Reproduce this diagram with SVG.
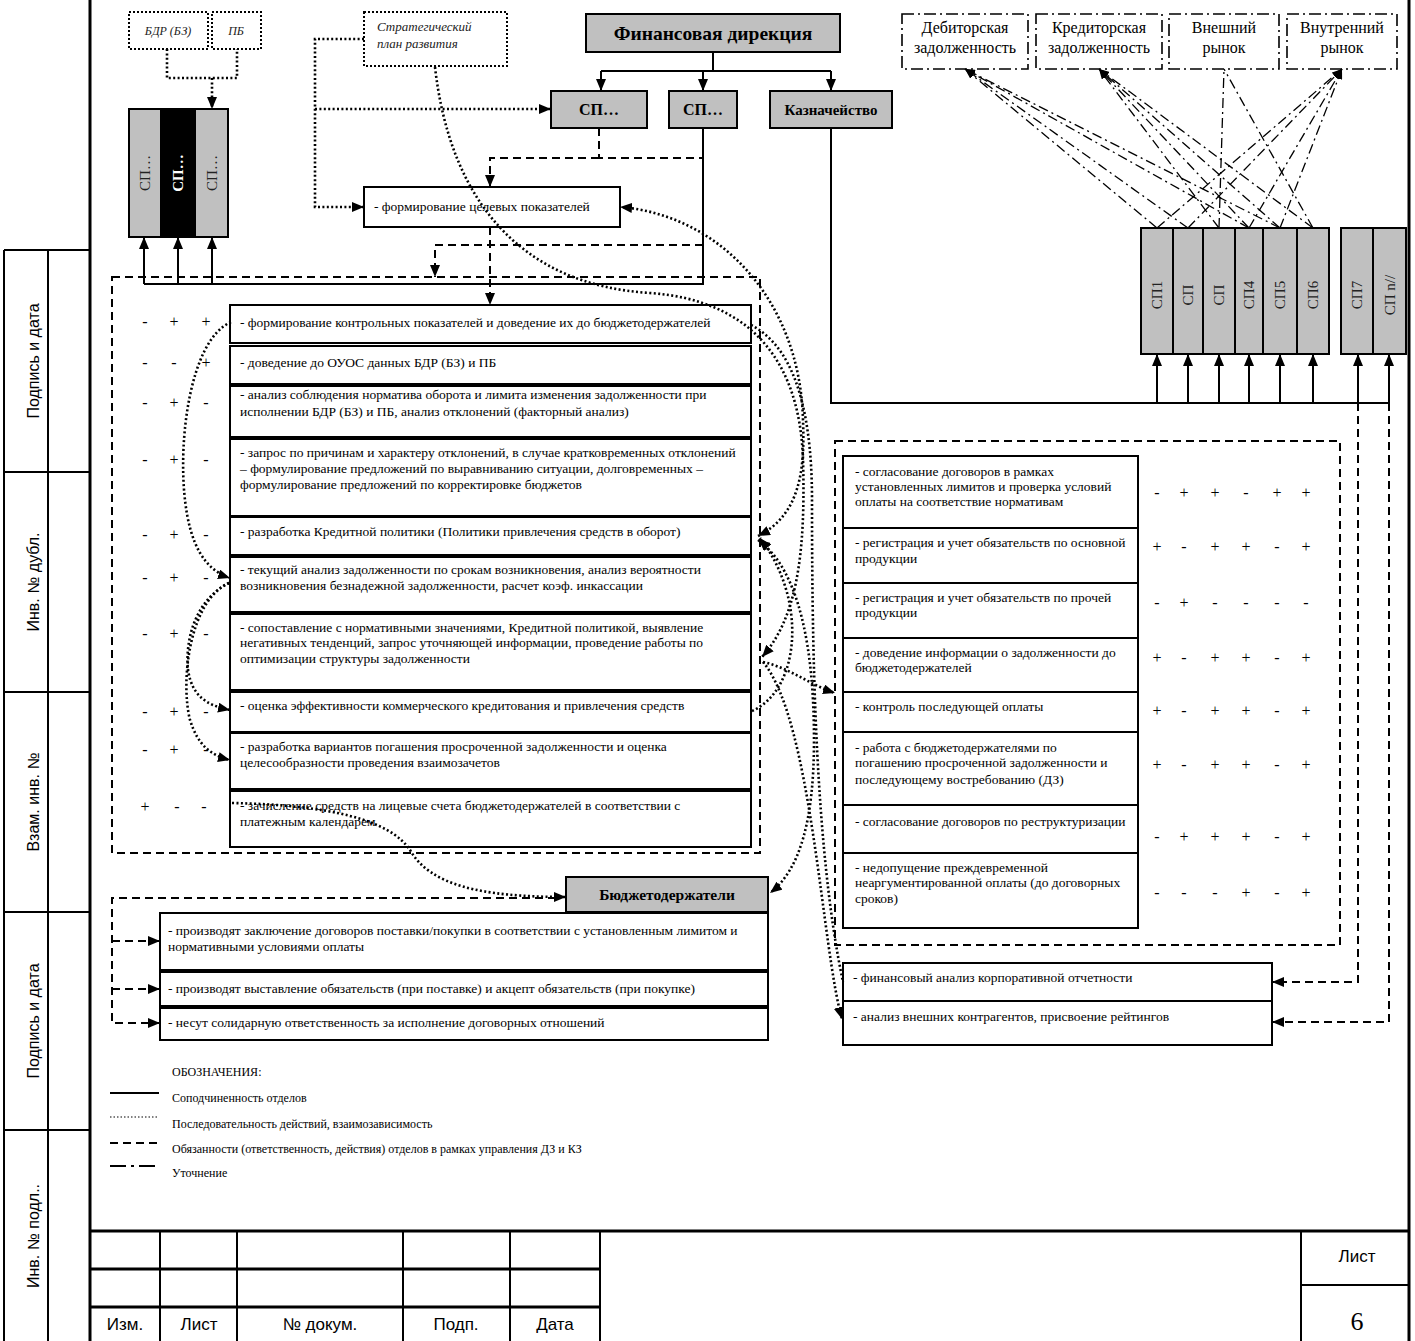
<svg xmlns="http://www.w3.org/2000/svg" width="1415" height="1341" viewBox="0 0 1415 1341">
<style>
.frame{fill:none;stroke:#000;stroke-width:3}
.thin{fill:none;stroke:#000;stroke-width:1.3}
.box{fill:#fff;stroke:#000;stroke-width:2}
.gbox{fill:#c0c0c0;stroke:#000;stroke-width:2}
.bbox{fill:#000;stroke:#000;stroke-width:2}
.dotbox{fill:#fff;stroke:#000;stroke-width:2;stroke-dasharray:2 2}
.ddbox{fill:#fff;stroke:#000;stroke-width:1.6;stroke-dasharray:12 4 2 4}
.solid{fill:none;stroke:#000;stroke-width:2}
.dash{fill:none;stroke:#000;stroke-width:2;stroke-dasharray:8 5}
.dot{fill:none;stroke:#000;stroke-width:2.6;stroke-dasharray:2 2.4}
.dd{fill:none;stroke:#000;stroke-width:1.3;stroke-dasharray:10 4 2 4}
.t{font-family:"Liberation Serif",serif;font-size:13.5px;fill:#000}
.ti{font-family:"Liberation Serif",serif;font-size:13px;font-style:italic;fill:#222}
.tb{font-family:"Liberation Serif",serif;font-weight:bold;fill:#000;text-anchor:middle}
.tc{font-family:"Liberation Serif",serif;font-size:16px;fill:#000;text-anchor:middle}
.pm{font-family:"Liberation Serif",serif;font-size:16px;fill:#000;text-anchor:middle}
.lg{font-family:"Liberation Serif",serif;font-size:12px;fill:#000}
.sp{font-family:"Liberation Serif",serif;font-size:15px;fill:#222;text-anchor:middle}
.sa{font-family:"Liberation Sans",sans-serif;font-size:16px;fill:#000;text-anchor:middle}
.sb{font-family:"Liberation Sans",sans-serif;font-size:17px;fill:#000;text-anchor:middle}
</style>
<defs>
<marker id="a" viewBox="0 0 12 10" refX="12" refY="5" markerWidth="12" markerHeight="10" markerUnits="userSpaceOnUse" orient="auto"><path d="M0,0L12,5L0,10z" fill="#000"/></marker>
<marker id="as" viewBox="0 0 12 10" refX="12" refY="5" markerWidth="12" markerHeight="10" markerUnits="userSpaceOnUse" orient="auto-start-reverse"><path d="M0,0L12,5L0,10z" fill="#000"/></marker>
<marker id="ss" viewBox="0 0 10 8" refX="10" refY="4" markerWidth="10" markerHeight="8" markerUnits="userSpaceOnUse" orient="auto"><path d="M0,0L10,4L0,8z" fill="#000"/></marker>
</defs>

<!-- page frame -->
<g id="frame">
<path class="frame" d="M90,0V1341M1409,0V1341"/>
<path class="solid" d="M4,250V1341M48,250V1341M4,250H90M4,472H90M4,692H90M4,912H90M4,1130H90"/>
<text class="sa" transform="translate(39,361) rotate(-90)">Подпись и дата</text>
<text class="sa" transform="translate(39,582) rotate(-90)">Инв. № дубл.</text>
<text class="sa" transform="translate(39,802) rotate(-90)">Взам. инв. №</text>
<text class="sa" transform="translate(39,1021) rotate(-90)">Подпись и дата</text>
<text class="sa" transform="translate(39,1236) rotate(-90)">Инв. № подл..</text>
</g>

<g id="titleblock">
<path class="frame" d="M90,1231H1409M90,1269H600M90,1307H600"/>
<path class="solid" d="M160,1231V1341M237,1231V1341M403,1231V1341M510,1231V1341M600,1231V1341M1301,1231V1341M1301,1285H1409"/>
<text class="sb" x="125" y="1330">Изм.</text>
<text class="sb" x="199" y="1330">Лист</text>
<text class="sb" x="320" y="1330">№ докум.</text>
<text class="sb" x="456" y="1330">Подп.</text>
<text class="sb" x="555" y="1330">Дата</text>
<text class="sb" x="1357" y="1262">Лист</text>
<text x="1357" y="1330" style="font-family:'Liberation Serif',serif;font-size:26px;text-anchor:middle">6</text>
</g>

<!-- nodes top -->
<g id="bdr"><rect class="dotbox" x="129" y="12" width="79" height="37"/><text class="ti" x="168" y="35" text-anchor="middle" style="font-size:12px">БДР (БЗ)</text></g>
<g id="pb"><rect class="dotbox" x="212" y="12" width="49" height="37"/><text class="ti" x="236" y="35" text-anchor="middle" style="font-size:12px">ПБ</text></g>
<g id="sp-left">
<rect class="gbox" x="129" y="109" width="32" height="128"/>
<rect class="bbox" x="161" y="109" width="34" height="128"/>
<rect class="gbox" x="195" y="109" width="33" height="128"/>
<text class="sp" transform="translate(150,173) rotate(-90)">СП…</text>
<text class="sp" transform="translate(183,173) rotate(-90)" style="fill:#fff;font-weight:bold">СП…</text>
<text class="sp" transform="translate(217,173) rotate(-90)">СП…</text>
</g>
<g id="strategic"><rect class="dotbox" x="364" y="12" width="143" height="54"/><text class="ti" x="377" y="31">Стратегический</text><text class="ti" x="377" y="48">план развития</text></g>
<g id="findir"><rect class="gbox" x="586" y="14" width="254" height="38"/><text class="tb" x="713" y="40" style="font-size:19.5px">Финансовая дирекция</text></g>
<g id="sp1"><rect class="gbox" x="551" y="91" width="96" height="37"/><text class="tb" x="599" y="115" style="font-size:16px">СП…</text></g>
<g id="sp2"><rect class="gbox" x="669" y="91" width="68" height="37"/><text class="tb" x="703" y="115" style="font-size:16px">СП…</text></g>
<g id="treasury"><rect class="gbox" x="770" y="91" width="122" height="37"/><text class="tb" x="831" y="115" style="font-size:15px">Казначейство</text></g>
<g id="target"><rect class="box" x="364" y="187" width="256" height="40"/><text class="t" x="374" y="211">- формирование целевых показателей</text></g>

<g id="ext-boxes">
<rect class="ddbox" x="902" y="14" width="126" height="55"/>
<rect class="ddbox" x="1036" y="14" width="126" height="55"/>
<rect class="ddbox" x="1169" y="14" width="110" height="55"/>
<rect class="ddbox" x="1287" y="14" width="110" height="55"/>
<text class="tc" x="965" y="33">Дебиторская</text><text class="tc" x="965" y="53">задолженность</text>
<text class="tc" x="1099" y="33">Кредиторская</text><text class="tc" x="1099" y="53">задолженность</text>
<text class="tc" x="1224" y="33">Внешний</text><text class="tc" x="1224" y="53">рынок</text>
<text class="tc" x="1342" y="33">Внутренний</text><text class="tc" x="1342" y="53">рынок</text>
</g>

<g id="sp-right">
<rect class="gbox" x="1141" y="228" width="32" height="126"/>
<rect class="gbox" x="1173" y="228" width="30" height="126"/>
<rect class="gbox" x="1203" y="228" width="32" height="126"/>
<rect class="gbox" x="1235" y="228" width="28" height="126"/>
<rect class="gbox" x="1263" y="228" width="34" height="126"/>
<rect class="gbox" x="1297" y="228" width="32" height="126"/>
<rect class="gbox" x="1341" y="228" width="32" height="126"/>
<rect class="gbox" x="1373" y="228" width="33" height="126"/>
<text class="sp" transform="translate(1162,295) rotate(-90)">СП1</text>
<text class="sp" transform="translate(1193,295) rotate(-90)">СП</text>
<text class="sp" transform="translate(1224,295) rotate(-90)">СП</text>
<text class="sp" transform="translate(1254,295) rotate(-90)">СП4</text>
<text class="sp" transform="translate(1285,295) rotate(-90)">СП5</text>
<text class="sp" transform="translate(1318,295) rotate(-90)">СП6</text>
<text class="sp" transform="translate(1362,295) rotate(-90)">СП7</text>
<text class="sp" transform="translate(1395,295) rotate(-90)">СП n//</text>
</g>

<!-- left list -->
<g id="left-area">
<rect class="dash" x="112" y="277" width="648" height="576"/>
<rect class="box" x="230" y="305" width="521" height="38"/>
<rect class="box" x="230" y="346" width="521" height="38"/>
<rect class="box" x="230" y="386" width="521" height="51"/>
<rect class="box" x="230" y="439" width="521" height="77"/>
<rect class="box" x="230" y="517" width="521" height="38"/>
<rect class="box" x="230" y="557" width="521" height="55"/>
<rect class="box" x="230" y="614" width="521" height="76"/>
<rect class="box" x="230" y="692" width="521" height="40"/>
<rect class="box" x="230" y="733" width="521" height="56"/>
<rect class="box" x="230" y="791" width="521" height="56"/>
<text class="t" x="240" y="327">- формирование контрольных показателей и доведение их до бюджетодержателей</text>
<text class="t" x="240" y="367">- доведение до ОУОС данных БДР (БЗ) и ПБ</text>
<text class="t" x="240" y="399">- анализ соблюдения норматива оборота и лимита изменения задолженности при</text>
<text class="t" x="240" y="416">исполнении БДР (БЗ) и ПБ, анализ отклонений (факторный анализ)</text>
<text class="t" x="240" y="457">- запрос по причинам и характеру отклонений, в случае кратковременных отклонений</text>
<text class="t" x="240" y="473">– формулирование предложений по выравниванию ситуации, долговременных –</text>
<text class="t" x="240" y="489">формулирование предложений по корректировке бюджетов</text>
<text class="t" x="240" y="536">- разработка Кредитной политики (Политики привлечения средств в оборот)</text>
<text class="t" x="240" y="574">- текущий анализ задолженности по срокам возникновения, анализ вероятности</text>
<text class="t" x="240" y="590">возникновения безнадежной задолженности, расчет коэф. инкассации</text>
<text class="t" x="240" y="632">- сопоставление с нормативными значениями, Кредитной политикой, выявление</text>
<text class="t" x="240" y="647">негативных тенденций,  запрос уточняющей информации, проведение работы по</text>
<text class="t" x="240" y="663">оптимизации структуры задолженности</text>
<text class="t" x="240" y="710">- оценка эффективности коммерческого кредитования и привлечения средств</text>
<text class="t" x="240" y="751">- разработка вариантов погашения просроченной задолженности и оценка</text>
<text class="t" x="240" y="767">целесообразности проведения взаимозачетов</text>
<text class="t" x="240" y="810">- зачисление средств на лицевые счета бюджетодержателей в соответствии с</text>
<text class="t" x="240" y="826">платежным календарем</text>
<text class="pm" x="145 174 206" y="327">-++</text>
<text class="pm" x="145 174 206" y="368">--+</text>
<text class="pm" x="145 174 206" y="408">-+-</text>
<text class="pm" x="145 174 206" y="465">-+-</text>
<text class="pm" x="145 174 206" y="540">-+-</text>
<text class="pm" x="145 174 206" y="583">-+-</text>
<text class="pm" x="145 174 206" y="639">-+-</text>
<text class="pm" x="145 174 206" y="717">-+-</text>
<text class="pm" x="145 174 206" y="755">-+-</text>
<text class="pm" x="145 177 204" y="812">+--</text>
</g>

<!-- right list -->
<g id="right-area">
<rect class="dash" x="835" y="441" width="505" height="504"/>
<rect class="box" x="843" y="456" width="295" height="72"/>
<rect class="box" x="843" y="528" width="295" height="55"/>
<rect class="box" x="843" y="583" width="295" height="55"/>
<rect class="box" x="843" y="638" width="295" height="54"/>
<rect class="box" x="843" y="692" width="295" height="40"/>
<rect class="box" x="843" y="732" width="295" height="73"/>
<rect class="box" x="843" y="805" width="295" height="48"/>
<rect class="box" x="843" y="853" width="295" height="75"/>
<text class="t" x="855" y="476">- согласование договоров в рамках</text>
<text class="t" x="855" y="491">установленных лимитов и проверка условий</text>
<text class="t" x="855" y="506">оплаты на соответствие нормативам</text>
<text class="t" x="855" y="547">- регистрация и учет обязательств по основной</text>
<text class="t" x="855" y="563">продукции</text>
<text class="t" x="855" y="602">- регистрация и учет обязательств по прочей</text>
<text class="t" x="855" y="617">продукции</text>
<text class="t" x="855" y="657">- доведение информации о задолженности до</text>
<text class="t" x="855" y="672">бюджетодержателей</text>
<text class="t" x="855" y="711">- контроль последующей оплаты</text>
<text class="t" x="855" y="752">- работа с бюджетодержателями по</text>
<text class="t" x="855" y="767">погашению просроченной задолженности и</text>
<text class="t" x="855" y="784">последующему востребованию (ДЗ)</text>
<text class="t" x="855" y="826">- согласование договоров по реструктуризации</text>
<text class="t" x="855" y="872">- недопущение преждевременной</text>
<text class="t" x="855" y="887">неаргументированной оплаты  (до договорных</text>
<text class="t" x="855" y="903">сроков)</text>
<text class="pm" x="1157 1184 1215 1246 1277 1306" y="498">-++-++</text>
<text class="pm" x="1157 1184 1215 1246 1277 1306" y="552">+-++-+</text>
<text class="pm" x="1157 1184 1215 1246 1277 1306" y="608">-+----</text>
<text class="pm" x="1157 1184 1215 1246 1277 1306" y="663">+-++-+</text>
<text class="pm" x="1157 1184 1215 1246 1277 1306" y="716">+-++-+</text>
<text class="pm" x="1157 1184 1215 1246 1277 1306" y="770">+-++-+</text>
<text class="pm" x="1157 1184 1215 1246 1277 1306" y="842">-+++-+</text>
<text class="pm" x="1157 1184 1215 1246 1277 1306" y="898">---+-+</text>
</g>

<g id="analysis">
<rect class="box" x="843" y="963" width="429" height="38"/>
<rect class="box" x="843" y="1001" width="429" height="44"/>
<text class="t" x="853" y="982">- финансовый анализ корпоративной отчетности</text>
<text class="t" x="853" y="1021">- анализ внешних контрагентов, присвоение рейтингов</text>
</g>

<g id="budget-holders">
<rect class="gbox" x="566" y="877" width="202" height="35"/>
<text class="tb" x="667" y="900" style="font-size:15.5px">Бюджетодержатели</text>
<rect class="box" x="160" y="913" width="608" height="57"/>
<rect class="box" x="160" y="972" width="608" height="34"/>
<rect class="box" x="160" y="1008" width="608" height="32"/>
<text class="t" x="168" y="935">- производят заключение договоров поставки/покупки в соответствии с установленным лимитом и</text>
<text class="t" x="168" y="951">нормативными условиями оплаты</text>
<text class="t" x="168" y="993">- производят выставление обязательств (при поставке) и акцепт обязательств (при покупке)</text>
<text class="t" x="168" y="1027">- несут солидарную ответственность за исполнение договорных отношений</text>
</g>

<g id="legend">
<text class="lg" x="172" y="1076">ОБОЗНАЧЕНИЯ:</text>
<path class="solid" d="M110,1093H159"/>
<path d="M110,1117H159" style="stroke:#000;stroke-width:1.2;stroke-dasharray:1.5 2"/>
<path class="dash" d="M110,1143H159"/>
<path d="M110,1166H159" style="stroke:#000;stroke-width:2;stroke-dasharray:16 5 3 5"/>
<text class="lg" x="172" y="1102">Соподчиненность отделов</text>
<text class="lg" x="172" y="1128">Последовательность действий, взаимозависимость</text>
<text class="lg" x="172" y="1153">Обязанности (ответственность, действия) отделов в рамках управления ДЗ и КЗ</text>
<text class="lg" x="172" y="1177">Уточнение</text>
</g>

<!-- connectors -->
<g id="connectors">
<path class="solid" d="M713,52V71M601,71H831"/>
<path class="solid" d="M601,71V91" marker-end="url(#a)"/>
<path class="solid" d="M703,71V91" marker-end="url(#a)"/>
<path class="solid" d="M831,71V91" marker-end="url(#a)"/>
<path class="solid" d="M703,128V284H144"/>
<path class="solid" d="M144,284V237" marker-end="url(#a)"/>
<path class="solid" d="M178,284V237" marker-end="url(#a)"/>
<path class="solid" d="M212,284V237" marker-end="url(#a)"/>
<path class="solid" d="M831,128V403H1389"/>
<path class="solid" d="M1157,403V354" marker-end="url(#a)"/>
<path class="solid" d="M1188,403V354" marker-end="url(#a)"/>
<path class="solid" d="M1219,403V354" marker-end="url(#a)"/>
<path class="solid" d="M1249,403V354" marker-end="url(#a)"/>
<path class="solid" d="M1280,403V354" marker-end="url(#a)"/>
<path class="solid" d="M1313,403V354" marker-end="url(#a)"/>
<path class="solid" d="M1358,403V354" marker-end="url(#a)"/>
<path class="solid" d="M1389,403V354" marker-end="url(#a)"/>
<path class="dash" d="M599,128V158H703"/>
<path class="dash" d="M599,158H490V187" marker-end="url(#a)"/>
<path class="dash" d="M490,227V305" marker-end="url(#a)"/>
<path class="dash" d="M703,245H435V277" marker-end="url(#a)"/>
<path class="dash" d="M1358,403V982H1272" marker-end="url(#a)"/>
<path class="dash" d="M1389,403V1022H1272" marker-end="url(#a)"/>
<path class="dash" d="M556,898H112V1023H160" marker-end="url(#a)"/>
<path class="dash" d="M112,941H160" marker-end="url(#a)"/>
<path class="dash" d="M112,989H160" marker-end="url(#a)"/>
<path class="dot" d="M167,49V78H237V49"/>
<path class="dot" d="M212,78V109" marker-end="url(#a)"/>
<path class="dot" d="M364,39H315V207H364" marker-end="url(#a)"/>
<path class="dot" d="M315,109H551" marker-end="url(#a)"/>
<path class="dot" d="M758,536C800,515 805,470 803,420C800,300 720,215 620,207" marker-start="url(#as)" marker-end="url(#a)"/>
<path class="dot" d="M435,67C450,200 520,285 650,293C750,300 800,360 803,460C806,560 795,620 762,657" marker-end="url(#a)"/>
<path class="dot" d="M751,325C790,345 812,400 812,500C812,650 815,850 843,982"/>
<path class="dot" d="M758,540C800,570 814,650 814,740C814,820 800,870 770,893" marker-start="url(#as)" marker-end="url(#a)"/>
<path class="dot" d="M752,711C800,690 808,600 760,538" marker-end="url(#a)"/>
<path class="dot" d="M763,662C790,668 810,685 835,693" marker-end="url(#a)"/>
<path class="dot" d="M763,662C812,720 822,950 842,1019" marker-end="url(#a)"/>
<path class="dot" d="M231,322C190,340 178,440 185,500C190,545 205,570 230,578" marker-end="url(#a)"/>
<path class="dot" d="M229,583C195,600 185,640 188,670C192,695 205,705 230,710" marker-end="url(#a)"/>
<path class="dot" d="M229,583C190,600 180,680 190,720C198,745 210,755 230,760" marker-end="url(#a)"/>
<path class="dot" d="M232,803C330,805 390,820 410,850C430,885 480,897 566,897" marker-end="url(#a)"/>
<path class="dd" d="M1157,228L965,69" marker-end="url(#ss)"/>
<path class="dd" d="M1188,228L965,69" marker-end="url(#ss)"/>
<path class="dd" d="M1249,228L965,69" marker-end="url(#ss)"/>
<path class="dd" d="M1280,228L965,69" marker-end="url(#ss)"/>
<path class="dd" d="M1219,228L1099,69" marker-end="url(#ss)"/>
<path class="dd" d="M1249,228L1099,69" marker-end="url(#ss)"/>
<path class="dd" d="M1280,228L1099,69" marker-end="url(#ss)"/>
<path class="dd" d="M1313,228L1099,69" marker-end="url(#ss)"/>
<path class="dd" d="M1219,228L1224,69"/>
<path class="dd" d="M1313,228L1224,69"/>
<path class="dd" d="M1157,228L1342,69" marker-end="url(#ss)"/>
<path class="dd" d="M1188,228L1342,69" marker-end="url(#ss)"/>
<path class="dd" d="M1249,228L1342,69" marker-end="url(#ss)"/>
<path class="dd" d="M1280,228L1342,69" marker-end="url(#ss)"/>
</g>
</svg>
